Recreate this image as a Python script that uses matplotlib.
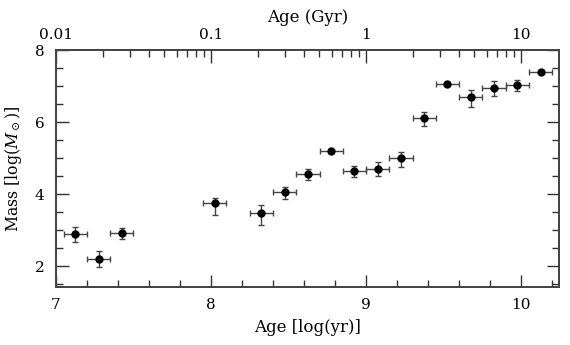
import numpy as np
import matplotlib
matplotlib.use("Agg")
import matplotlib.pyplot as plt
from matplotlib.ticker import MultipleLocator, FixedLocator

plt.rcParams['font.family'] = ['DejaVu Serif']
plt.rcParams['mathtext.fontset'] = 'dejavuserif'

log_age = [7.125, 7.275, 7.425, 8.025, 8.325, 8.475, 8.625, 8.775, 8.925,
           9.075, 9.225, 9.375, 9.525, 9.675, 9.825, 9.975, 10.125]
log_mass = [2.88, 2.20, 2.91, 3.74, 3.48, 4.05, 4.55, 5.19, 4.63,
            4.71, 4.99, 6.10, 7.05, 6.70, 6.94, 7.03, 7.40]
mass_err_up = [0.22, 0.22, 0.15, 0.14, 0.23, 0.15, 0.15, 0.05, 0.15,
               0.18, 0.19, 0.17, 0.05, 0.19, 0.19, 0.14, 0.05]
mass_err_lo = [0.22, 0.23, 0.15, 0.33, 0.34, 0.19, 0.16, 0.05, 0.16,
               0.21, 0.23, 0.20, 0.05, 0.29, 0.22, 0.17, 0.05]
age_err = [0.075] * 17

top_major = [0.01, 0.1, 1, 10]
top_labels = ['0.01', '0.1', '1', '10']

fig = plt.figure(figsize=(5.7, 3.45), dpi=100)
ax = fig.add_axes([0.098, 0.168, 0.883, 0.687])

ax.errorbar(log_age, log_mass, xerr=age_err,
            yerr=[mass_err_lo, mass_err_up], fmt='o', color='black',
            ecolor='#444444', elinewidth=1.0, capsize=2.5, capthick=1.0,
            markersize=5)

ax.set_xlim(7.0, 10.245)
ax.set_ylim(1.42, 8.0)
ax.xaxis.set_major_locator(MultipleLocator(1))
ax.xaxis.set_minor_locator(MultipleLocator(0.2))
ax.yaxis.set_major_locator(MultipleLocator(2))
ax.yaxis.set_minor_locator(MultipleLocator(0.5))
ax.tick_params(which='both', direction='in', right=True, top=False,
               color='#333333', labelsize=11, pad=8)
ax.tick_params(which='major', length=9, width=1.0)
ax.tick_params(which='minor', length=5, width=1.0)
for s in ax.spines.values():
    s.set_color('#444444')
    s.set_linewidth(1.3)

ax.set_xlabel('Age [log(yr)]', fontsize=12, labelpad=5)
ax.set_ylabel(r'Mass [log($M_\odot$)]', fontsize=11.3, labelpad=8)

# top axis: age in Gyr
top = ax.twiny()
top.set_xlim(ax.get_xlim())
major_pos = [np.log10(g) + 9 for g in top_major]
minor_pos = [np.log10(k * g) + 9 for g in top_major for k in range(2, 10)]
minor_pos = [p for p in minor_pos if p <= 10.245]
top.xaxis.set_major_locator(FixedLocator(major_pos))
top.xaxis.set_minor_locator(FixedLocator(minor_pos))
top.set_xticklabels(top_labels)
top.tick_params(which='both', direction='in', color='#333333',
                labelsize=11, pad=6)
top.tick_params(which='major', length=9, width=1.0)
top.tick_params(which='minor', length=5, width=1.0)
top.set_xlabel('Age (Gyr)', fontsize=12, labelpad=4)
for s in top.spines.values():
    s.set_color('#444444')
    s.set_linewidth(1.3)

fig.savefig('out.png', dpi=100)
